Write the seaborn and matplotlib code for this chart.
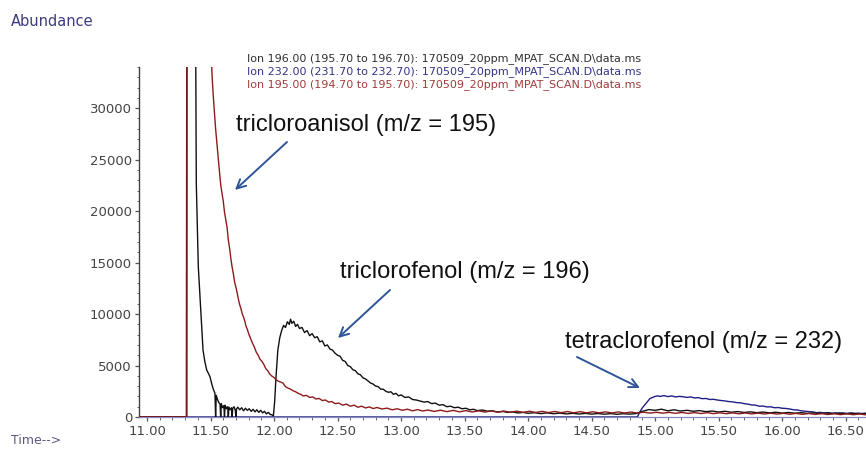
import numpy as np
import pandas as pd
import matplotlib
matplotlib.use("Agg")
import matplotlib.pyplot as plt
from matplotlib.ticker import MultipleLocator, FormatStrFormatter
import seaborn as sns

# ---- extracted ion chromatograms (time in min, abundance in counts) ----
time_196 = [
    10.94, 11.310, 11.315, 11.375, 11.388, 11.404, 11.420, 11.431, 11.441, 11.455,
    11.470, 11.485, 11.496, 11.510, 11.522, 11.535, 11.540, 11.545, 11.555, 11.565,
    11.575, 11.580, 11.585, 11.595, 11.605, 11.610, 11.615, 11.625, 11.635, 11.640,
    11.645, 11.655, 11.665, 11.670, 11.675, 11.685, 11.695, 11.700, 11.705, 11.715,
    11.730, 11.745, 11.760, 11.775, 11.790, 11.805, 11.820, 11.835, 11.850, 11.865,
    11.880, 11.895, 11.910, 11.925, 11.940, 11.955, 11.970, 11.985, 11.995, 12.005,
    12.015, 12.030, 12.045, 12.060, 12.075, 12.090, 12.105, 12.120, 12.130, 12.140,
    12.155, 12.170, 12.185, 12.200, 12.220, 12.240, 12.260, 12.280, 12.300, 12.320,
    12.340, 12.360, 12.380, 12.400, 12.420, 12.440, 12.460, 12.480, 12.500, 12.520,
    12.540, 12.560, 12.580, 12.600, 12.620, 12.640, 12.660, 12.680, 12.700, 12.720,
    12.740, 12.760, 12.780, 12.800, 12.820, 12.840, 12.860, 12.880, 12.900, 12.920,
    12.940, 12.960, 12.980, 13.000, 13.030, 13.060, 13.090, 13.120, 13.150, 13.180,
    13.210, 13.240, 13.270, 13.300, 13.330, 13.360, 13.390, 13.420, 13.450, 13.480,
    13.510, 13.540, 13.570, 13.600, 13.640, 13.680, 13.720, 13.760, 13.800, 13.840,
    13.880, 13.920, 13.960, 14.000, 14.050, 14.100, 14.150, 14.200, 14.250, 14.300,
    14.350, 14.400, 14.450, 14.500, 14.550, 14.600, 14.650, 14.700, 14.750, 14.800,
    14.850, 14.900, 14.950, 15.000, 15.050, 15.100, 15.150, 15.200, 15.250, 15.300,
    15.350, 15.400, 15.450, 15.500, 15.550, 15.600, 15.650, 15.700, 15.750, 15.800,
    15.850, 15.900, 15.950, 16.000, 16.050, 16.100, 16.150, 16.200, 16.250, 16.300,
    16.350, 16.400, 16.450, 16.500, 16.550, 16.600, 16.660,
]
abund_196 = [
    0, 0, 60000, 60000, 22700, 14560, 11000, 8740, 6500, 5400,
    4560, 4200, 3900, 3200, 2700, 2300, 0, 2100, 1700, 1400,
    1250, 0, 1300, 900, 1100, 0, 1150, 800, 1000, 0,
    950, 700, 900, 0, 850, 1000, 650, 0, 800, 950,
    700, 900, 600, 850, 650, 800, 550, 750, 500, 700,
    450, 650, 400, 550, 300, 450, 250, 200, 100, 1500,
    3800, 6500, 7700, 8400, 8900, 8700, 9250, 9000, 9500, 9100,
    9300, 8800, 9000, 8600, 8700, 8200, 8400, 7900, 8100, 7700,
    7800, 7300, 7400, 6900, 7000, 6600, 6500, 6200, 6000, 5900,
    5500, 5400, 5000, 4900, 4600, 4500, 4200, 4100, 3800, 3700,
    3500, 3300, 3200, 3000, 2950, 2700, 2700, 2500, 2400, 2450,
    2200, 2300, 2050, 2150, 1900, 1950, 1700, 1650, 1550, 1450,
    1500, 1300, 1350, 1150, 1200, 1000, 1050, 900, 950, 800,
    850, 700, 750, 620, 680, 560, 600, 480, 540, 440,
    500, 390, 450, 360, 420, 330, 400, 320, 380, 300,
    360, 290, 350, 280, 340, 270, 330, 260, 320, 280,
    330, 550, 720, 650, 760, 600, 700, 580, 650, 560,
    620, 520, 580, 480, 560, 460, 530, 440, 500, 420,
    480, 400, 460, 380, 440, 370, 420, 350, 400, 340,
    390, 330, 380, 320, 360, 310, 350,
]

time_232 = [
    10.94, 14.860, 14.880, 14.900, 14.920, 14.940, 14.960, 14.980, 15.000, 15.020,
    15.040, 15.070, 15.100, 15.130, 15.160, 15.190, 15.220, 15.250, 15.280, 15.310,
    15.340, 15.370, 15.400, 15.430, 15.460, 15.490, 15.520, 15.550, 15.580, 15.610,
    15.640, 15.670, 15.700, 15.730, 15.760, 15.790, 15.820, 15.850, 15.880, 15.910,
    15.940, 15.970, 16.000, 16.030, 16.060, 16.090, 16.120, 16.150, 16.180, 16.210,
    16.240, 16.270, 16.300, 16.330, 16.360, 16.390, 16.420, 16.450, 16.480, 16.510,
    16.540, 16.570, 16.600, 16.630, 16.660,
]
abund_232 = [
    0, 0, 500, 900, 1200, 1500, 1800, 1900, 2000, 2050,
    2000, 2080, 1980, 2050, 1950, 2000, 1970, 1900, 1950, 1850,
    1880, 1780, 1800, 1700, 1720, 1650, 1600, 1560, 1500, 1470,
    1400, 1380, 1300, 1250, 1170, 1150, 1050, 1060, 980, 990,
    900, 920, 850, 830, 780, 700, 680, 600, 560, 520,
    500, 420, 450, 380, 420, 370, 400, 360, 390, 350,
    390, 340, 380, 330, 360,
]

time_195 = [
    10.94, 11.314, 11.316, 11.500, 11.510, 11.520, 11.530, 11.540, 11.550, 11.560,
    11.570, 11.580, 11.590, 11.600, 11.610, 11.620, 11.630, 11.640, 11.650, 11.660,
    11.670, 11.680, 11.690, 11.700, 11.710, 11.720, 11.730, 11.740, 11.750, 11.760,
    11.770, 11.780, 11.790, 11.800, 11.810, 11.820, 11.830, 11.845, 11.860, 11.875,
    11.890, 11.905, 11.920, 11.935, 11.950, 11.965, 11.980, 11.995, 12.010, 12.030,
    12.050, 12.070, 12.090, 12.110, 12.130, 12.150, 12.170, 12.190, 12.210, 12.230,
    12.255, 12.280, 12.305, 12.330, 12.355, 12.380, 12.405, 12.430, 12.455, 12.480,
    12.510, 12.540, 12.570, 12.600, 12.630, 12.660, 12.690, 12.720, 12.750, 12.780,
    12.810, 12.850, 12.890, 12.930, 12.970, 13.010, 13.050, 13.090, 13.130, 13.170,
    13.210, 13.260, 13.310, 13.360, 13.410, 13.460, 13.510, 13.560, 13.610, 13.660,
    13.710, 13.760, 13.810, 13.860, 13.910, 13.960, 14.010, 14.060, 14.110, 14.160,
    14.210, 14.260, 14.310, 14.360, 14.410, 14.460, 14.510, 14.560, 14.610, 14.660,
    14.710, 14.760, 14.810, 14.860, 14.910, 14.960, 15.010, 15.060, 15.110, 15.160,
    15.210, 15.260, 15.310, 15.360, 15.410, 15.460, 15.510, 15.560, 15.610, 15.660,
    15.710, 15.760, 15.810, 15.860, 15.910, 15.960, 16.010, 16.060, 16.110, 16.160,
    16.210, 16.260, 16.310, 16.360, 16.410, 16.460, 16.510, 16.560, 16.610, 16.660,
]
abund_195 = [
    0, 0, 60000, 60000, 33700, 31500, 29800, 28000, 26600, 25200,
    23900, 22600, 21750, 21000, 19900, 19200, 18450, 17200, 16400, 15400,
    14560, 13900, 13100, 12600, 12040, 11400, 10900, 10500, 10000, 9710,
    9300, 8800, 8500, 8100, 7800, 7500, 7180, 6800, 6300, 6000,
    5600, 5400, 5100, 4700, 4500, 4200, 4000, 3880, 3700, 3500,
    3400, 3300, 2950, 2810, 2700, 2550, 2450, 2300, 2200, 2050,
    2100, 1900, 1950, 1750, 1800, 1600, 1650, 1450, 1500, 1300,
    1350, 1150, 1250, 1050, 1150, 950, 1050, 880, 980, 820,
    920, 780, 860, 700, 800, 650, 760, 600, 720, 580,
    680, 540, 660, 520, 640, 500, 620, 490, 600, 480,
    590, 470, 580, 460, 570, 450, 560, 440, 550, 430,
    540, 420, 530, 410, 520, 400, 510, 400, 500, 390,
    490, 390, 480, 380, 470, 380, 460, 370, 450, 360,
    440, 350, 430, 340, 420, 330, 410, 320, 400, 310,
    390, 300, 380, 290, 370, 280, 360, 270, 350, 260,
    340, 250, 330, 240, 320, 230, 310, 220, 300, 210,
]

legend_lines = [
    "Ion 196.00 (195.70 to 196.70): 170509_20ppm_MPAT_SCAN.D\\data.ms",
    "Ion 232.00 (231.70 to 232.70): 170509_20ppm_MPAT_SCAN.D\\data.ms",
    "Ion 195.00 (194.70 to 195.70): 170509_20ppm_MPAT_SCAN.D\\data.ms",
]
legend_colors = ["#303030", "#35358a", "#a03c3c"]

x_ticks = [11.00, 11.50, 12.00, 12.50, 13.00, 13.50, 14.00, 14.50,
           15.00, 15.50, 16.00, 16.50]
y_ticks = [0, 5000, 10000, 15000, 20000, 25000, 30000]

# ---- figure ----
sns.set_theme(style="white")
plt.rcParams["font.family"] = ["DejaVu Sans"]

W, H = 866, 455
fig = plt.figure(figsize=(W / 100, H / 100), dpi=100)
ax = fig.add_axes([139 / W, 38 / H, 727 / W, 350 / H])


def fpx(x, y):
    """pixel position measured from the top-left -> figure pixels"""
    return (x, H - y)


def ffrac(x, y):
    """pixel position measured from the top-left -> figure fraction"""
    return (x / W, (H - y) / H)


df196 = pd.DataFrame({"time": time_196, "abundance": abund_196})
df195 = pd.DataFrame({"time": time_195, "abundance": abund_195})
df232 = pd.DataFrame({"time": time_232, "abundance": abund_232})

kw = dict(x="time", y="abundance", estimator=None, sort=False, ax=ax,
          linewidth=1.0, legend=False)
sns.lineplot(data=df232, color="#1f1f85", zorder=3, **kw)
sns.lineplot(data=df196, color="#111111", zorder=4, **kw)
sns.lineplot(data=df195, color="#8e1b1b", zorder=5, **kw)

ax.set_xlim(10.937, 16.66)
ax.set_ylim(0, 34000)
ax.set_xlabel("")
ax.set_ylabel("")

ax.set_xticks(x_ticks)
ax.xaxis.set_major_formatter(FormatStrFormatter("%.2f"))
ax.xaxis.set_minor_locator(MultipleLocator(0.1))
ax.set_yticks(y_ticks)
ax.yaxis.set_minor_locator(MultipleLocator(1000))

ax.tick_params(axis="both", which="major", direction="out", length=3,
               width=0.9, color="#555555", labelsize=9.5,
               labelcolor="#444444", pad=2)
ax.tick_params(axis="x", which="major", pad=2.5)
ax.tick_params(axis="both", which="minor", direction="out", length=1.8,
               width=0.7, color="#666666")
ax.tick_params(axis="x", which="both", bottom=True)
ax.tick_params(axis="y", which="both", left=True)

for side in ("top", "right"):
    ax.spines[side].set_visible(False)
ax.spines["left"].set_color("#444444")
ax.spines["left"].set_linewidth(1.0)
ax.spines["bottom"].set_color("#8a8ac0")
ax.spines["bottom"].set_linewidth(0.9)
ax.grid(False)

# header / axis captions
fig.text(*ffrac(11, 21), "Abundance", fontsize=10.5, color="#3c3c80",
         va="center", ha="left")
fig.text(*ffrac(11, 441), "Time-->", fontsize=9, color="#5a5a80",
         va="center", ha="left")

# ion trace descriptions
for i, (txt, col) in enumerate(zip(legend_lines, legend_colors)):
    fig.text(*ffrac(247, 58.5 + 13 * i), txt, fontsize=8, color=col,
             va="center", ha="left")

# compound annotations with arrows
arrow_col = "#2f5597"
notes = [
    ("tricloroanisol (m/z = 195)", (236, 125), (287, 142), (235, 190)),
    ("triclorofenol (m/z = 196)", (340, 272), (390, 290), (338, 338)),
    ("tetraclorofenol (m/z = 232)", (565, 342), (577, 357), (640, 388)),
]
for txt, tpos, tail, head in notes:
    fig.text(*ffrac(*tpos), txt, fontsize=17,
             family=["Liberation Sans", "DejaVu Sans"], color="#111111",
             va="center", ha="left")
    ax.annotate("", xy=fpx(*head), xycoords="figure pixels",
                xytext=fpx(*tail), textcoords="figure pixels",
                arrowprops=dict(arrowstyle="->", color=arrow_col, lw=1.4,
                                mutation_scale=16, shrinkA=0, shrinkB=0))

fig.savefig("out.png", dpi=100)
